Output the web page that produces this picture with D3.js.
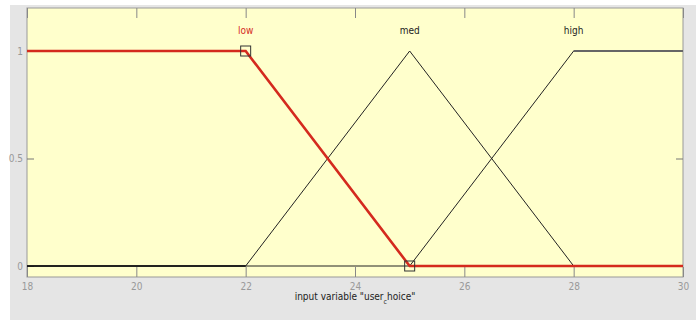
<!DOCTYPE html>
<html>
<head>
<meta charset="utf-8">
<script src="https://cdn.jsdelivr.net/npm/d3@7"></script>
<style>
  body { margin: 0; background: #fff; }
  svg text { font-family: "DejaVu Sans Condensed", "Liberation Sans Narrow", sans-serif; }
</style>
</head>
<body>
<svg id="chart"></svg>
<script>
// fonctions d'appartenance (x, mu)
const mfNames = ["low", "med", "high"]
const mfPeaks = [22, 25, 28]
const lowPts = [[18, 1], [22, 1], [25, 0], [30, 0]]
const medPts = [[18, 0], [22, 0], [25, 1], [28, 0], [30, 0]]
const highPts = [[18, 0], [25, 0], [28, 1], [30, 1]]
const xTicks = [18, 20, 22, 24, 26, 28, 30]
const yTicks = [0, 0.5, 1]
const selected = 0 // "low" en rouge

const svgWidth = 696
const svgHeight = 320
const margin = { left: 27, right: 13, top: 8, bottom: 43 }
const chartWidth = svgWidth - margin.left - margin.right
const chartHeight = svgHeight - margin.top - margin.bottom

const svg = d3.select("#chart")
    .attr("width", svgWidth)
    .attr("height", svgHeight)

// fond gris
svg.append("rect")
    .attr("x", 10).attr("y", 5)
    .attr("width", svgWidth - 10).attr("height", svgHeight - 5)
    .attr("fill", "#e5e5e5")

const g = svg.append("g")
    .attr("transform", `translate(${margin.left},${margin.top})`)

g.append("rect")
    .attr("width", chartWidth).attr("height", chartHeight)
    .attr("fill", "#ffffcc")
    .attr("stroke", "#999")
    .attr("stroke-width", 1)

const xScale = d3.scaleLinear().domain([18, 30]).range([0, chartWidth])
// y: 1 -> 43, 0 -> 258 dans la zone
const yScale = d3.scaleLinear().domain([0, 1]).range([258, 43])

// ticks en haut et en bas (vers l'intérieur)
g.append("g")
    .attr("transform", `translate(0,${chartHeight})`)
    .call(d3.axisBottom(xScale).tickValues(xTicks).tickSize(-10).tickPadding(6).tickFormat(d3.format("d")))
    .call(a => a.select(".domain").remove())
    .call(a => a.selectAll("line").attr("stroke", "#888"))
    .call(a => a.selectAll("text").attr("fill", "#999").style("font-size", "10px"))

g.append("g")
    .call(d3.axisTop(xScale).tickValues(xTicks).tickSize(-10).tickFormat(""))
    .call(a => a.select(".domain").remove())
    .call(a => a.selectAll("line").attr("stroke", "#888"))

g.append("g")
    .call(d3.axisLeft(yScale).tickValues(yTicks).tickSize(-7).tickPadding(4).tickFormat(d => d))
    .call(a => a.select(".domain").remove())
    .call(a => a.selectAll("line").attr("stroke", "#777"))
    .call(a => a.selectAll("text").attr("fill", "#999").style("font-size", "10px"))

g.append("g")
    .attr("transform", `translate(${chartWidth},0)`)
    .call(d3.axisRight(yScale).tickValues(yTicks).tickSize(-7).tickFormat(""))
    .call(a => a.select(".domain").remove())
    .call(a => a.selectAll("line").attr("stroke", "#777"))

const line = d3.line().x(d => xScale(d[0])).y(d => yScale(d[1]))

const series = [lowPts, medPts, highPts]
series.forEach((pts, i) => {
    if (i == selected) return
    g.append("path")
        .attr("d", line(pts))
        .attr("fill", "none")
        .attr("stroke", "#222")
        .attr("stroke-width", 1)
})
// plateau de high un peu plus épais
g.append("path")
    .attr("d", line(highPts.slice(2)))
    .attr("fill", "none")
    .attr("stroke", "#666")
    .attr("stroke-width", 2)
// ligne 0 de 18 à 22
g.append("path")
    .attr("d", line(medPts.slice(0, 2)))
    .attr("fill", "none")
    .attr("stroke", "#111")
    .attr("stroke-width", 1.6)

g.append("path")
    .attr("d", line(series[selected]))
    .attr("fill", "none")
    .attr("stroke", "#d42a1e")
    .attr("stroke-width", 2.6)

// carrés aux points de rupture
series[selected].slice(1, 3).forEach(p => {
    g.append("rect")
        .attr("x", xScale(p[0]) - 5).attr("y", yScale(p[1]) - 5)
        .attr("width", 10).attr("height", 10)
        .attr("fill", "none")
        .attr("stroke", "#333")
        .attr("stroke-width", 1)
})

// noms des fonctions
g.selectAll(".mfname")
    .data(mfNames)
    .join("text")
    .attr("x", (d, i) => xScale(mfPeaks[i]))
    .attr("y", 26)
    .attr("text-anchor", "middle")
    .attr("fill", (d, i) => i == selected ? "#d42a1e" : "#222")
    .style("font-size", "10px")
    .text(d => d)

// titre de l'axe
const title = svg.append("text")
    .attr("x", 355).attr("y", 300)
    .attr("text-anchor", "middle")
    .attr("fill", "#222")
    .style("font-size", "10px")
title.append("tspan").text('input variable "user')
title.append("tspan").attr("dy", 4).style("font-size", "7px").text("c")
title.append("tspan").attr("dy", -4).text('hoice"')
</script>
</body>
</html>
